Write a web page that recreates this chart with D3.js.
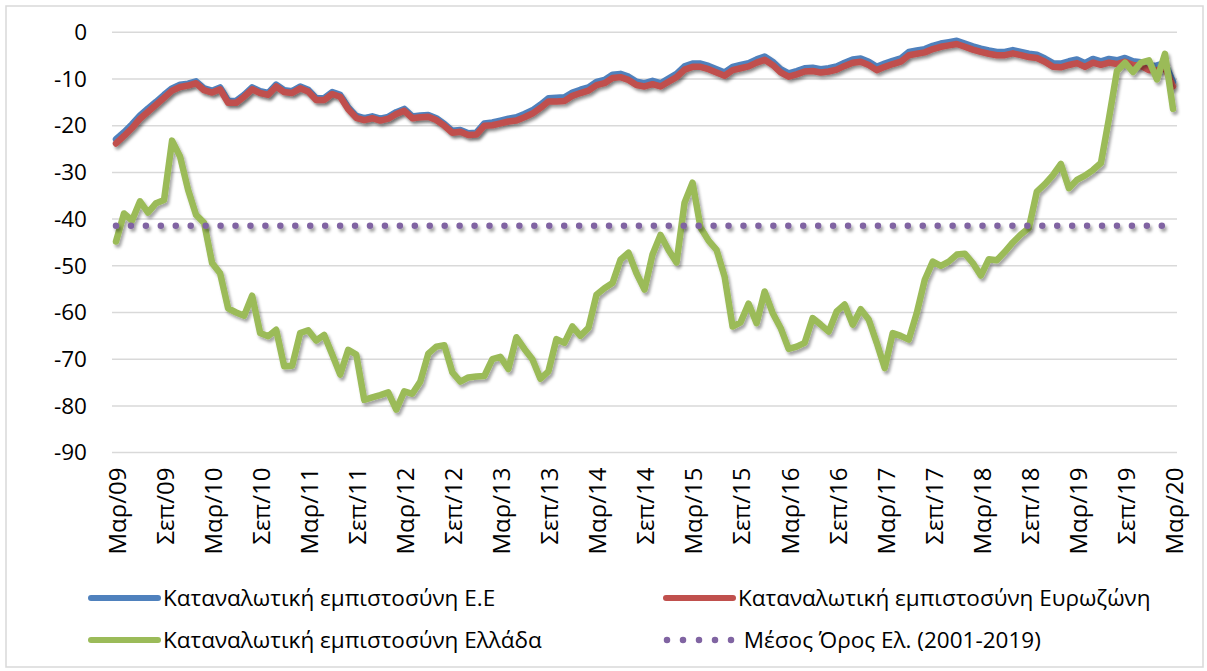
<!doctype html>
<html>
<head>
    <meta charset="utf-8">
    <style>
        body { margin: 0; background: #fff; }
        text { font-family: "Open Sans", "Noto Sans", sans-serif; fill: #000; }
        .grid line { stroke: #d9d9d9; stroke-width: 1.5; }
    </style>
    <script src="https://d3js.org/d3.v7.min.js"></script>
</head>
<body>

<svg width="1207" height="671"></svg>
<script>

    // greek month abbreviations, categories run Mar/09 .. Mar/20
    var monthNames = ["Ιαν", "Φεβ", "Μαρ", "Απρ", "Μαϊ", "Ιουν", "Ιουλ", "Αυγ", "Σεπ", "Οκτ", "Νοε", "Δεκ"];
    var categories = [];
    for (var yr = 2009; yr <= 2020; yr++) {
        for (var m = 0; m < 12; m++) {
            if (yr == 2009 && m < 2) continue;
            if (yr == 2020 && m > 2) continue;
            categories.push(monthNames[m] + "/" + String(yr).slice(2));
        }
    }

    var tickLabels = ["Μαρ/09", "Σεπ/09", "Μαρ/10", "Σεπ/10", "Μαρ/11", "Σεπ/11", "Μαρ/12", "Σεπ/12",
                      "Μαρ/13", "Σεπ/13", "Μαρ/14", "Σεπ/14", "Μαρ/15", "Σεπ/15", "Μαρ/16", "Σεπ/16",
                      "Μαρ/17", "Σεπ/17", "Μαρ/18", "Σεπ/18", "Μαρ/19", "Σεπ/19", "Μαρ/20"];
    var yTicks = [0, -10, -20, -30, -40, -50, -60, -70, -80, -90];

    // Καταναλωτική εμπιστοσύνη Ε.Ε
    var euValues = [-22.9, -21.4, -19.7, -17.8, -16.3, -14.9, -13.4, -12.0, -11.2, -11.0,
                    -10.5, -12.0, -12.5, -11.8, -14.7, -14.7, -13.4, -11.8, -12.6, -13.0,
                    -11.2, -12.4, -12.6, -11.6, -12.3, -14.1, -14.1, -12.8, -13.4, -16.1,
                    -17.9, -18.4, -18.0, -18.5, -18.1, -17.1, -16.4, -18.0, -17.8, -17.7,
                    -18.4, -19.6, -21.1, -20.9, -21.6, -21.5, -19.5, -19.3, -18.9, -18.5,
                    -18.2, -17.5, -16.7, -15.5, -14.1, -14.0, -13.9, -12.9, -12.3, -11.8,
                    -10.6, -10.2, -9.1, -8.9, -9.5, -10.6, -10.9, -10.4, -10.9, -9.9,
                    -8.9, -7.3, -6.7, -6.7, -7.2, -7.9, -8.6, -7.4, -7.0, -6.6,
                    -5.8, -5.2, -6.3, -7.9, -8.8, -8.3, -7.7, -7.6, -7.9, -7.7,
                    -7.3, -6.5, -5.8, -5.6, -6.3, -7.4, -6.7, -6.1, -5.6, -4.2,
                    -3.9, -3.6, -2.9, -2.4, -2.1, -1.8, -2.4, -3.0, -3.5, -3.9,
                    -4.2, -4.2, -3.8, -4.2, -4.6, -4.8, -5.6, -6.6, -6.7, -6.2,
                    -5.8, -6.6, -5.7, -6.2, -5.7, -6.0, -5.5, -6.2, -6.4, -7.2,
                    -7.1, -6.6, -10.6];

    // Καταναλωτική εμπιστοσύνη Ευρωζώνη
    var eaValues = [-23.8, -22.2, -20.5, -18.5, -17.0, -15.5, -14.0, -12.5, -11.7, -11.4,
                    -10.9, -12.4, -12.9, -12.2, -15.1, -15.1, -13.8, -12.2, -13.0, -13.4,
                    -11.6, -12.8, -13.0, -12.0, -12.7, -14.5, -14.5, -13.2, -13.8, -16.5,
                    -18.3, -18.8, -18.4, -18.9, -18.5, -17.5, -16.8, -18.4, -18.2, -18.1,
                    -18.8, -20.0, -21.5, -21.3, -22.0, -21.9, -20.0, -19.9, -19.5, -19.1,
                    -18.9, -18.2, -17.4, -16.2, -14.8, -14.8, -14.7, -13.6, -13.0, -12.5,
                    -11.3, -10.9, -9.8, -9.6, -10.2, -11.3, -11.6, -11.1, -11.6, -10.6,
                    -9.6, -8.0, -7.4, -7.4, -7.9, -8.6, -9.3, -8.1, -7.7, -7.3,
                    -6.5, -5.9, -7.0, -8.6, -9.5, -9.0, -8.4, -8.3, -8.6, -8.4,
                    -8.0, -7.2, -6.5, -6.3, -7.0, -8.1, -7.4, -6.8, -6.3, -4.9,
                    -4.6, -4.3, -3.6, -3.1, -2.8, -2.5, -3.1, -3.7, -4.2, -4.6,
                    -4.9, -4.9, -4.5, -4.9, -5.3, -5.5, -6.3, -7.4, -7.5, -7.0,
                    -6.6, -7.4, -6.5, -7.0, -6.5, -6.8, -6.3, -7.0, -7.2, -8.1,
                    -8.1, -7.6, -11.6];

    // Καταναλωτική εμπιστοσύνη Ελλάδα
    var grValues = [-44.8, -38.8, -40.3, -36.2, -38.6, -36.6, -35.9, -23.2, -26.6, -33.7,
                    -39.1, -40.8, -49.4, -51.6, -59.1, -60.0, -60.7, -56.4, -64.4, -65.1,
                    -63.7, -71.5, -71.4, -64.4, -63.8, -66.0, -64.8, -69.0, -73.3, -68.0,
                    -69.0, -78.7, -78.2, -77.7, -77.1, -80.8, -76.9, -77.4, -74.8, -68.8,
                    -67.3, -67.0, -72.8, -74.8, -73.9, -73.7, -73.6, -70.0, -69.5, -72.1,
                    -65.3, -67.8, -70.0, -74.2, -72.6, -65.7, -66.5, -63.0, -65.0, -63.3,
                    -56.2, -54.8, -53.7, -48.7, -47.2, -51.6, -55.1, -47.6, -43.4, -46.6,
                    -49.3, -36.5, -32.2, -41.8, -44.6, -46.6, -52.3, -63.0, -62.1, -58.1,
                    -62.3, -55.5, -60.1, -63.3, -67.8, -67.3, -66.5, -61.2, -62.6, -64.1,
                    -59.8, -58.3, -62.6, -59.3, -61.5, -66.5, -71.9, -64.4, -65.0, -65.8,
                    -60.1, -53.0, -49.1, -50.0, -49.1, -47.6, -47.4, -49.4, -52.1, -48.6,
                    -48.8, -47.0, -45.0, -43.3, -41.9, -34.1, -32.5, -30.6, -28.2, -33.4,
                    -31.6, -30.7, -29.5, -28.0, -18.5, -8.3, -6.5, -8.5, -6.5, -6.0,
                    -10.1, -4.6, -16.4];

    // Μέσος Όρος Ελ. (2001-2019), drawn up to Φεβ/20
    var grAverage = -41.4;
    var avgEnd = "Φεβ/20";

    var svg = d3.select("svg");

    svg.append("rect")
       .attr("width", 1207).attr("height", 671).attr("fill", "#fff");
    svg.append("rect")
       .attr("x", 6).attr("y", 6).attr("width", 1197).attr("height", 661)
       .attr("fill", "none").attr("stroke", "#d9d9d9").attr("stroke-width", 1.5);

    // soft shadow under the lines, in user space so flat lines keep it too
    var defs = svg.append("defs");
    var f = defs.append("filter").attr("id", "shadow")
                .attr("filterUnits", "userSpaceOnUse")
                .attr("x", 0).attr("y", 0).attr("width", 1207).attr("height", 671);
    f.append("feDropShadow")
     .attr("dx", 2).attr("dy", 3).attr("stdDeviation", 1.8)
     .attr("flood-color", "#000").attr("flood-opacity", 0.35);

    var plotLeft = 112, plotRight = 1177, plotTop = 32.3, plotBottom = 452.6;

    var x = d3.scalePoint().domain(categories).range([plotLeft, plotRight]).padding(0.5);
    var y = d3.scaleLinear().domain([-90, 0]).range([plotBottom, plotTop]);

    // gridlines
    svg.append("g").attr("class", "grid")
       .selectAll("line").data(yTicks).enter().append("line")
       .attr("x1", plotLeft).attr("x2", plotRight)
       .attr("y1", function(d) { return y(d); })
       .attr("y2", function(d) { return y(d); });

    // y axis labels (plain hyphen as minus)
    var yAxis = svg.append("g")
       .attr("transform", "translate(" + plotLeft + ",0)")
       .call(d3.axisLeft(y).tickValues(yTicks).tickSize(0).tickPadding(25)
               .tickFormat(function(d) { return String(d); }));
    yAxis.select(".domain").remove();
    yAxis.selectAll("text").attr("font-size", "22.5px").attr("font-family", null);

    // x axis labels, rotated
    var xAxis = svg.append("g")
       .attr("transform", "translate(0," + plotBottom + ")")
       .call(d3.axisBottom(x).tickValues(tickLabels).tickSize(0));
    xAxis.select(".domain").remove();
    xAxis.selectAll("text")
         .attr("font-size", "24px").attr("font-family", null)
         .attr("text-anchor", "end")
         .attr("transform", "translate(1,15) rotate(-90)")
         .attr("x", 0).attr("y", 0).attr("dy", "0.35em");

    var line = d3.line()
                 .x(function(d, i) { return x(categories[i]); })
                 .y(function(d) { return y(d); });

    var series = [
        { values: euValues, color: "#4f81bd" },
        { values: eaValues, color: "#c0504d" },
        { values: grValues, color: "#9bbb59" }
    ];

    series.forEach(function(s) {
        svg.append("path")
           .datum(s.values)
           .attr("fill", "none")
           .attr("stroke", s.color)
           .attr("stroke-width", 6.5)
           .attr("stroke-linejoin", "round")
           .attr("stroke-linecap", "round")
           .attr("filter", "url(#shadow)")
           .attr("d", line);
    });

    // average dotted line
    svg.append("line")
       .attr("x1", x(categories[0])).attr("x2", x(avgEnd))
       .attr("y1", y(grAverage)).attr("y2", y(grAverage))
       .attr("stroke", "#8064a2")
       .attr("stroke-width", 6.5)
       .attr("stroke-linecap", "round")
       .attr("stroke-dasharray", "0 14.94")
       .attr("filter", "url(#shadow)");

    // legend
    var legend = [
        { label: "Καταναλωτική εμπιστοσύνη Ε.Ε", color: "#4f81bd", x: 88, y: 598, dots: false },
        { label: "Καταναλωτική εμπιστοσύνη Ευρωζώνη", color: "#c0504d", x: 663, y: 598, dots: false },
        { label: "Καταναλωτική εμπιστοσύνη Ελλάδα", color: "#9bbb59", x: 88, y: 640, dots: false },
        { label: " Μέσος Όρος Ελ. (2001-2019)", color: "#8064a2", x: 663, y: 640, dots: true }
    ];

    legend.forEach(function(l) {
        var ln = svg.append("line")
           .attr("x1", l.dots ? l.x + 4 : l.x + 3).attr("x2", l.dots ? l.x + 70 : l.x + 70)
           .attr("y1", l.y).attr("y2", l.y)
           .attr("stroke", l.color)
           .attr("stroke-width", l.dots ? 6.5 : 6)
           .attr("stroke-linecap", "round");
        if (l.dots) ln.attr("stroke-dasharray", "0 16");
        svg.append("text")
           .attr("x", l.x + 75).attr("y", l.y)
           .attr("dy", "0.35em")
           .attr("font-size", "22.5px")
           .style("white-space", "pre")
           .text(l.label);
    });

</script>
</body>
</html>
